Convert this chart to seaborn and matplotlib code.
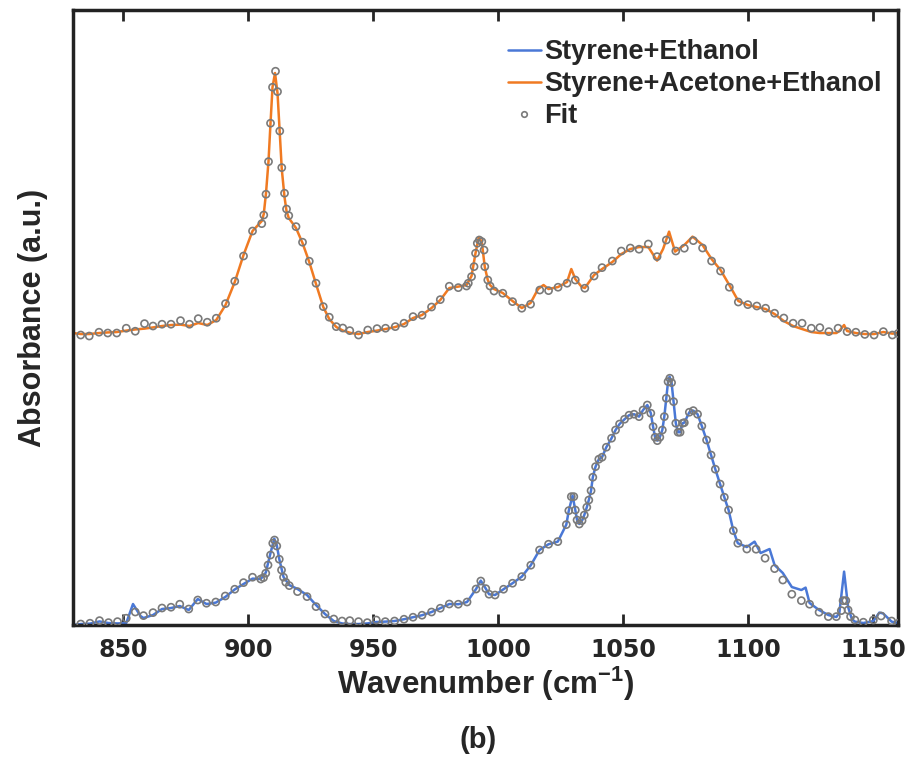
import matplotlib
matplotlib.use("Agg")
import matplotlib.pyplot as plt
from matplotlib.lines import Line2D
import seaborn as sns
import pandas as pd
import numpy as np

# Styrene+Ethanol: measured curve and fit points (a.u.)
se_line_x = [830.0, 833.1, 836.8, 840.6, 844.2, 847.8, 851.3, 854.0, 857.0, 858.2, 862.0, 865.6, 869.2, 872.7,
             876.3, 879.9, 883.4, 887.1, 890.9, 894.7, 898.2, 901.8, 905.1, 907.1, 909.0, 910.5, 911.5, 912.5,
             914.2, 916.5, 919.8, 923.6, 927.2, 930.8, 934.3, 937.6, 940.7, 944.2, 947.7, 951.3, 954.9, 958.6,
             962.4, 966.0, 969.6, 973.4, 976.9, 980.5, 984.1, 987.6, 991.2, 993.1, 995.1, 996.4, 998.8, 1002.2,
             1005.8, 1009.5, 1013.1, 1016.6, 1020.2, 1023.9, 1027.3, 1028.3, 1029.8, 1030.9, 1031.6, 1032.5,
             1033.6, 1034.5, 1035.5, 1036.3, 1037.2, 1037.9, 1039.0, 1040.3, 1041.6, 1043.3, 1045.4, 1047.0,
             1048.6, 1050.6, 1052.4, 1054.4, 1056.4, 1058.0, 1059.7, 1061.1, 1062.0, 1062.8, 1063.7, 1064.7,
             1065.7, 1066.5, 1067.3, 1068.0, 1068.6, 1069.4, 1070.2, 1071.1, 1072.0, 1072.8, 1073.8, 1074.5,
             1076.5, 1078.1, 1079.8, 1081.5, 1083.4, 1085.2, 1086.9, 1088.8, 1090.5, 1092.2, 1094.1, 1095.9,
             1099.5, 1102.6, 1105.0, 1108.6, 1110.6, 1113.9, 1117.5, 1121.3, 1123.0, 1124.6, 1128.4, 1132.1,
             1135.3, 1136.5, 1138.4, 1140.0, 1141.5, 1142.7, 1146.1, 1150.1, 1152.5, 1154.0, 1157.4, 1160.0]
se_line_y = [0.000, 0.005, 0.007, 0.018, 0.010, 0.008, 0.010, 0.105, 0.045, 0.035, 0.050, 0.080, 0.085, 0.095,
             0.075, 0.130, 0.105, 0.112, 0.140, 0.178, 0.205, 0.232, 0.230, 0.262, 0.360, 0.432, 0.400, 0.330,
             0.240, 0.200, 0.180, 0.150, 0.100, 0.055, 0.020, 0.008, 0.005, 0.005, 0.008, 0.015, 0.017, 0.020,
             0.029, 0.039, 0.049, 0.065, 0.084, 0.105, 0.104, 0.115, 0.180, 0.222, 0.182, 0.154, 0.150, 0.179,
             0.209, 0.242, 0.299, 0.375, 0.404, 0.417, 0.502, 0.572, 0.647, 0.575, 0.525, 0.505,
             0.522, 0.550, 0.589, 0.625, 0.672, 0.739, 0.792, 0.829, 0.839, 0.889, 0.934, 0.975,
             1.005, 1.029, 1.049, 1.054, 1.042, 1.075, 1.100, 1.059, 0.992, 0.939, 0.922, 0.939,
             0.975, 1.042, 1.134, 1.217, 1.242, 1.212, 1.117, 1.009, 0.964, 0.964, 1.009, 1.012,
             1.064, 1.072, 1.054, 0.995, 0.925, 0.850, 0.779, 0.705, 0.639, 0.575, 0.472, 0.409,
             0.390, 0.417, 0.360, 0.380, 0.300, 0.260, 0.190, 0.175, 0.187, 0.110, 0.075, 0.050,
             0.040, 0.060, 0.267, 0.090, 0.030, 0.017, 0.010, 0.020, 0.062, 0.058, 0.017, 0.010]

se_fit_x = [833.1, 836.8, 840.6, 844.2, 847.8, 851.3, 854.9, 858.2, 862.0, 865.6, 869.2, 872.7, 876.3, 879.9,
            883.4, 887.1, 890.9, 894.7, 898.2, 901.8, 905.1, 906.2, 907.1, 908.0, 909.0, 909.9, 910.6, 911.5,
            912.5, 913.4, 914.2, 915.1, 916.5, 919.8, 923.6, 927.2, 930.8, 934.3, 937.6, 940.7, 944.2, 947.7,
            951.3, 954.9, 958.6, 962.4, 966.0, 969.6, 973.4, 976.9, 980.5, 984.1, 987.6, 991.2, 993.1, 995.1,
            996.4, 998.8, 1002.2, 1005.8, 1009.5, 1013.1, 1016.6, 1020.2, 1023.9, 1027.3, 1028.3, 1029.3,
            1030.3, 1030.9, 1031.6, 1032.5, 1033.6, 1034.5, 1035.5, 1036.3, 1037.2, 1037.9, 1039.0, 1040.3,
            1041.6, 1043.3, 1045.4, 1047.0, 1048.6, 1050.6, 1052.4, 1054.4, 1056.4, 1058.0, 1059.7, 1061.1,
            1062.0, 1062.8, 1063.7, 1064.7, 1065.7, 1066.5, 1067.3, 1068.0, 1068.7, 1069.4, 1070.2, 1071.1,
            1072.0, 1072.8, 1073.8, 1074.5, 1076.5, 1078.1, 1079.8, 1081.5, 1083.4, 1085.2, 1086.9, 1088.8,
            1090.5, 1092.2, 1094.1, 1095.9, 1099.5, 1103.2, 1106.8, 1110.6, 1113.9, 1117.5, 1121.3, 1124.6,
            1128.4, 1132.1, 1135.3, 1137.3, 1138.0, 1139.1, 1140.0, 1141.0, 1142.7, 1146.1, 1150.1, 1153.2,
            1157.4, 1160.0]
se_fit_y = [0.005, 0.009, 0.022, 0.012, 0.017, 0.034, 0.065, 0.047, 0.062, 0.085, 0.089, 0.104, 0.080, 0.125,
            0.109, 0.115, 0.145, 0.179, 0.212, 0.239, 0.230, 0.237, 0.259, 0.300, 0.350, 0.409, 0.425, 0.395,
            0.329, 0.275, 0.239, 0.214, 0.197, 0.167, 0.142, 0.092, 0.055, 0.030, 0.020, 0.022, 0.017, 0.012,
            0.025, 0.017, 0.020, 0.029, 0.039, 0.049, 0.065, 0.084, 0.105, 0.104, 0.115, 0.180, 0.220, 0.182,
            0.154, 0.150, 0.179, 0.209, 0.242, 0.299, 0.375, 0.404, 0.417, 0.502, 0.572, 0.642,
            0.642, 0.575, 0.525, 0.505, 0.522, 0.550, 0.589, 0.625, 0.672, 0.739, 0.792, 0.829,
            0.839, 0.889, 0.934, 0.975, 1.005, 1.029, 1.049, 1.054, 1.042, 1.075, 1.100, 1.059,
            0.992, 0.939, 0.922, 0.939, 0.975, 1.042, 1.134, 1.217, 1.234, 1.212, 1.117, 1.009,
            0.964, 0.964, 1.009, 1.012, 1.064, 1.072, 1.054, 0.995, 0.925, 0.850, 0.779, 0.705,
            0.639, 0.575, 0.472, 0.409, 0.380, 0.379, 0.334, 0.282, 0.225, 0.154, 0.122, 0.104,
            0.064, 0.042, 0.042, 0.072, 0.122, 0.122, 0.075, 0.042, 0.025, 0.014, 0.025, 0.045,
            0.020, 0.009]

# Styrene+Acetone+Ethanol: measured curve and fit points (a.u., before offset)
sae_line_x = [830.0, 833.1, 836.5, 840.4, 843.9, 847.5, 851.3, 854.9, 858.6, 862.0, 865.6, 869.2, 873.0, 876.6,
              880.1, 883.7, 887.3, 891.0, 894.7, 898.2, 901.8, 905.5, 906.3, 907.2, 908.2, 909.0, 909.8, 910.8,
              911.8, 912.7, 913.5, 914.6, 915.4, 916.3, 919.2, 921.8, 924.5, 927.2, 930.1, 932.5, 935.3, 938.0,
              941.2, 944.2, 947.9, 951.6, 955.0, 958.9, 962.4, 966.0, 969.6, 973.4, 976.9, 980.5, 984.1, 987.4,
              989.4, 991.0, 992.3, 993.5, 994.7, 995.9, 996.8, 998.4, 1001.9, 1005.8, 1009.5, 1013.0, 1016.0,
              1018.2, 1020.2, 1024.0, 1027.6, 1029.3, 1030.9, 1033.5, 1034.7, 1038.4, 1041.6, 1045.7, 1049.3,
              1052.9, 1056.4, 1060.1, 1063.6, 1066.0, 1068.4, 1070.8, 1074.5, 1077.8, 1081.8, 1085.4, 1089.0,
              1092.5, 1096.1, 1099.9, 1103.5, 1107.0, 1110.6, 1114.3, 1118.0, 1121.6, 1125.3, 1128.7, 1132.3,
              1135.3, 1136.5, 1138.4, 1139.6, 1143.1, 1146.7, 1150.4, 1154.1, 1157.7, 1160.0]
sae_line_y = [0.000, -0.005, -0.005, 0.000, 0.003, 0.005, 0.012, 0.018, 0.022, 0.028, 0.035, 0.040, 0.042, 0.035,
              0.050, 0.040, 0.065, 0.140, 0.255, 0.390, 0.510, 0.560, 0.595, 0.700, 0.860, 1.050, 1.230, 1.300,
              1.200, 1.000, 0.820, 0.680, 0.610, 0.575, 0.525, 0.450, 0.355, 0.245, 0.130, 0.070, 0.030, 0.012,
              0.000, -0.005, 0.005, 0.012, 0.020, 0.030, 0.045, 0.075, 0.090, 0.125, 0.165, 0.225, 0.232, 0.240,
              0.285, 0.400, 0.480, 0.455, 0.330, 0.265, 0.240, 0.220, 0.200, 0.160, 0.125, 0.150, 0.220,
              0.240, 0.220, 0.230, 0.255, 0.320, 0.270, 0.230, 0.225, 0.290, 0.320, 0.355, 0.395,
              0.420, 0.430, 0.430, 0.362, 0.420, 0.507, 0.407, 0.440, 0.482, 0.440, 0.370, 0.315,
              0.240, 0.160, 0.140, 0.130, 0.120, 0.095, 0.060, 0.035, 0.020, 0.005, 0.000, 0.000,
              0.000, 0.010, 0.040, 0.010, 0.000, -0.005, -0.005, 0.005, -0.003, 0.000]

sae_fit_x = [833.1, 836.5, 840.4, 843.9, 847.5, 851.3, 854.9, 858.6, 862.0, 865.6, 869.2, 873.0, 876.6, 880.1,
             883.7, 887.3, 891.0, 894.7, 898.2, 901.8, 905.5, 906.3, 907.2, 908.2, 909.0, 909.8, 911.0, 911.8,
             912.7, 913.5, 914.6, 915.4, 916.3, 919.2, 921.8, 924.5, 927.2, 930.1, 932.5, 935.3, 937.9, 940.7,
             944.2, 947.9, 951.6, 955.0, 958.9, 962.4, 966.0, 969.6, 973.4, 976.9, 980.5, 984.1, 987.4, 988.1,
             989.4, 990.4, 991.0, 991.7, 992.5, 993.5, 994.4, 994.7, 995.9, 996.8, 998.4, 1001.9, 1005.8,
             1009.5, 1013.0, 1016.7, 1020.2, 1024.0, 1027.6, 1030.9, 1034.7, 1038.4, 1041.6, 1045.7, 1049.3,
             1052.9, 1056.4, 1060.1, 1063.6, 1067.3, 1071.1, 1074.5, 1078.1, 1081.8, 1085.4, 1089.0, 1092.5,
             1096.1, 1099.9, 1103.5, 1107.0, 1110.6, 1114.3, 1118.0, 1121.6, 1125.3, 1128.7, 1132.3, 1136.0,
             1139.6, 1143.1, 1146.7, 1150.4, 1154.1, 1157.7, 1160.0]
sae_fit_y = [-0.010, -0.015, 0.004, 0.000, 0.000, 0.024, 0.009, 0.047, 0.035, 0.044, 0.044, 0.062, 0.044, 0.072,
             0.054, 0.074, 0.147, 0.259, 0.385, 0.510, 0.547, 0.590, 0.694, 0.857, 1.049, 1.229, 1.309, 1.207,
             1.010, 0.827, 0.699, 0.620, 0.587, 0.532, 0.454, 0.359, 0.249, 0.132, 0.079, 0.032, 0.025, 0.012,
             -0.010, 0.015, 0.022, 0.024, 0.032, 0.049, 0.082, 0.089, 0.130, 0.167, 0.234, 0.227, 0.235, 0.249,
             0.282, 0.332, 0.399, 0.449, 0.465, 0.457, 0.415, 0.332, 0.265, 0.235, 0.210, 0.199, 0.157,
             0.124, 0.144, 0.215, 0.212, 0.229, 0.249, 0.265, 0.224, 0.285, 0.327, 0.360, 0.410,
             0.425, 0.419, 0.445, 0.382, 0.465, 0.410, 0.424, 0.462, 0.425, 0.360, 0.310, 0.229,
             0.155, 0.142, 0.135, 0.124, 0.099, 0.075, 0.049, 0.049, 0.024, 0.027, 0.007, 0.024,
             0.007, 0.004, -0.007, -0.010, 0.007, -0.010, -0.002]

sae_offset = 1.46
x_ticks = [850, 900, 950, 1000, 1050, 1100, 1150]

blue = "#4A78D6"
orange = "#F07A22"
grey = "#7A7A7A"

sns.set_style("ticks")
plt.rcParams['font.family'] = ['Liberation Sans', 'DejaVu Sans']
plt.rcParams['font.weight'] = 'bold'
plt.rcParams['mathtext.fontset'] = 'custom'
plt.rcParams['mathtext.rm'] = 'Liberation Sans:bold'
plt.rcParams['mathtext.bf'] = 'Liberation Sans:bold'

fig = plt.figure(figsize=(9.09, 7.6), dpi=100)
ax = fig.add_axes([0.0803, 0.1776, 0.9077, 0.8092])

se_line = pd.DataFrame({'x': se_line_x, 'y': se_line_y})
sae_line = pd.DataFrame({'x': sae_line_x, 'y': np.array(sae_line_y) + sae_offset})
se_fit = pd.DataFrame({'x': se_fit_x, 'y': se_fit_y})
sae_fit = pd.DataFrame({'x': sae_fit_x, 'y': np.array(sae_fit_y) + sae_offset})

sns.lineplot(data=se_line, x='x', y='y', color=blue, lw=1.8, sort=False, estimator=None, ax=ax)
sns.lineplot(data=sae_line, x='x', y='y', color=orange, lw=1.8, sort=False, estimator=None, ax=ax)
for d in (se_fit, sae_fit):
    sns.scatterplot(data=d, x='x', y='y', marker='o', s=26, facecolors='none',
                    edgecolor=grey, linewidth=1.2, ax=ax, zorder=3)

ax.set_xlim(830, 1160)
ax.set_ylim(0, 3.075)
ax.set_xticks(x_ticks)
ax.set_yticks([])
ax.tick_params(axis='x', direction='in', length=8, width=2, top=True, pad=9)
for lab in ax.get_xticklabels():
    lab.set_fontfamily('DejaVu Sans')
    lab.set_fontweight('bold')
    lab.set_fontsize(17)
for sp in ax.spines.values():
    sp.set_linewidth(2.5)
    sp.set_color('#222222')

ax.set_xlabel('Wavenumber (cm$^{-1}$)', fontsize=22.5, fontweight='bold', labelpad=2)
ax.set_ylabel('Absorbance (a.u.)', fontsize=22, fontweight='bold', labelpad=18)
fig.text(0.526, 0.026, '(b)', fontsize=21, fontweight='bold', ha='center', va='center')

handles = [Line2D([], [], color=blue, lw=1.8),
           Line2D([], [], color=orange, lw=1.8),
           Line2D([], [], ls='none', marker='o', ms=4, mfc='none', mec=grey, mew=1.2)]
ax.legend(handles, ['Styrene+Ethanol', 'Styrene+Acetone+Ethanol', 'Fit'],
          loc='upper right', bbox_to_anchor=(1.003, 0.983), frameon=False,
          prop={'size': 19.5, 'weight': 'bold'}, handlelength=1.25, handletextpad=0.1,
          labelspacing=0.22, borderaxespad=0.3)

fig.savefig('out.png', dpi=100)
